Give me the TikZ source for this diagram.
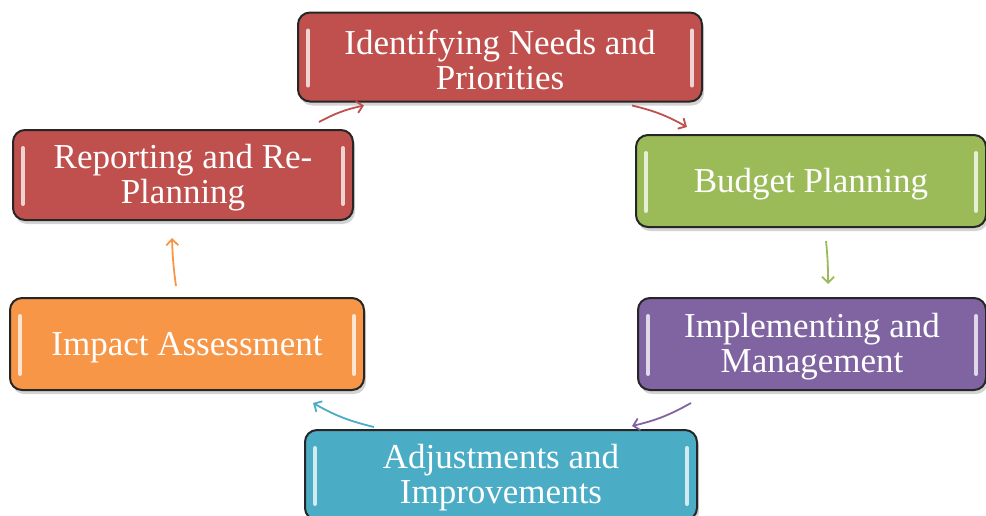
\documentclass[tikz,border=0pt]{standalone}
\usepackage{fontspec}
\setmainfont{Liberation Serif}
\usetikzlibrary{shadows,arrows.meta}
\definecolor{redstage}{HTML}{C0504D}
\definecolor{greenstage}{HTML}{9BBB59}
\definecolor{purplestage}{HTML}{8064A2}
\definecolor{cyanstage}{HTML}{4BACC6}
\definecolor{orangestage}{HTML}{F79646}
\begin{document}
\begin{tikzpicture}[x=0.5pt,y=0.5pt,>={Straight Barb[length=3pt,width=6pt]},
  stage/.style={shape=rectangle,rounded corners=6pt,draw=black!85,line width=1pt,
    fill=#1,text=white,align=center,font=\fontsize{17.5}{17.5}\selectfont,text height=15pt,
    drop shadow={opacity=0.35,shadow xshift=1pt,shadow yshift=-2pt},
    path picture={
      \draw [#1!25!white,line width=2pt,line cap=round]
        ([xshift=5pt,yshift=-9pt]path picture bounding box.north west) --
        ([xshift=5pt,yshift=8pt]path picture bounding box.south west)
        ([xshift=-5pt,yshift=-9pt]path picture bounding box.north east) --
        ([xshift=-5pt,yshift=8pt]path picture bounding box.south east);}},
  twolines/.style={text height=32.5pt},
  flow/.style={->,draw=#1,line width=0.9pt}]
\useasboundingbox (0,0) rectangle (986,-515);
\node (ident)  at (500,-57)  [stage=redstage,twolines,minimum width=202pt,minimum height=44.5pt] {Identifying Needs and\\Priorities};
\node (budget) at (811,-181) [stage=greenstage,minimum width=175pt,minimum height=46pt] {Budget Planning};
\node (impl)   at (812,-344) [stage=purplestage,twolines,minimum width=174pt,minimum height=46pt] {Implementing and\\Management};
\node (adjust) at (501,-475) [stage=cyanstage,twolines,minimum width=196pt,minimum height=45pt] {Adjustments and\\Improvements};
\node (impact) at (187,-344) [stage=orangestage,minimum width=177pt,minimum height=46pt] {Impact Assessment};
\node (report) at (183,-175) [stage=redstage,twolines,minimum width=170pt,minimum height=45pt] {Reporting and Re-\\Planning};
\draw [flow=redstage]    ([shift={(-35,7)}]report.north east) to [bend left=8] ([shift={(67,-3)}]ident.south west);
\draw [flow=redstage]    ([shift={(-71,-3)}]ident.south east) to [bend left=8] ([shift={(52,7)}]budget.north west);
\draw [flow=greenstage]  ([shift={(15,-13)}]budget.south) to [bend left=3] ([shift={(16,13)}]impl.north);
\draw [flow=purplestage] ([shift={(54,-12)}]impl.south west) to [bend left=8] ([shift={(-66,3)}]adjust.north east);
\draw [flow=cyanstage]   ([shift={(70,2)}]adjust.north west) to [bend left=8] ([shift={(-52,-12)}]impact.south east);
\draw [flow=orangestage] ([shift={(-11,11)}]impact.north) to [bend left=3] ([shift={(-11,-17)}]report.south);
\end{tikzpicture}
\end{document}
